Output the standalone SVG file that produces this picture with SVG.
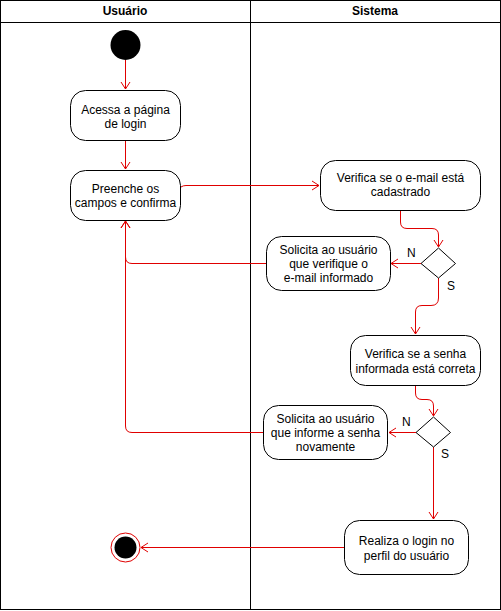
<svg xmlns="http://www.w3.org/2000/svg" width="501" height="611" viewBox="0 0 501 611">
<style>
.lane{fill:none;stroke:#000;stroke-width:1}
.hdr{font-family:"Liberation Sans",Arial,sans-serif;font-size:12px;font-weight:bold;fill:#000;text-anchor:middle}
.node{fill:#fff;stroke:#000;stroke-width:1}
.t{font-family:"Liberation Sans",Arial,sans-serif;font-size:12px;fill:#000;text-anchor:middle}
.lbl{font-family:"Liberation Sans",Arial,sans-serif;font-size:12px;fill:#000}
.e{fill:none;stroke:#e00000;stroke-width:1;marker-end:url(#arr)}
</style>
<defs>
<marker id="arr" markerUnits="userSpaceOnUse" markerWidth="12" markerHeight="12" viewBox="-9 -6 12 12" refX="0" refY="0" orient="auto">
<path d="M-7,-4.5 L0,0 L-7,4.5" fill="none" stroke="#e00000" stroke-width="1"/>
</marker>
</defs>
<rect width="501" height="611" fill="#fff"/>
<g id="lanes">
<rect class="lane" x="0.5" y="0.5" width="500" height="609"/>
<line class="lane" x1="0.5" y1="22.5" x2="500.5" y2="22.5"/>
<line class="lane" x1="250.5" y1="0.5" x2="250.5" y2="609.5"/>
<text class="hdr" x="125" y="15">Usuário</text>
<text class="hdr" x="375" y="15">Sistema</text>
</g>
<g id="connectors">
<path class="e" d="M125.5 60 L125.5 89"/>
<path class="e" d="M125.5 140 L125.5 169"/>
<path class="e" d="M181 187 Q183 185.5 186 185.5 L319 185.5"/>
<path class="e" d="M400.5 210 L400.5 222 Q400.5 228.5 407 228.5 L432 228.5 Q438.5 228.5 438.5 235 L438.5 247"/>
<path class="e" d="M421 263.5 L391 263.5"/>
<path class="e" d="M266 263.5 L132 263.5 Q125.5 263.5 125.5 257 L125.5 221"/>
<path class="e" d="M438.5 278 L438.5 298 Q438.5 305.5 431 305.5 L422 305.5 Q415.5 305.5 415.5 312 L415.5 334"/>
<path class="e" d="M415.5 385 L415.5 393 Q415.5 399.5 422 399.5 L427 399.5 Q433.5 399.5 433.5 406 L433.5 416"/>
<path class="e" d="M416 432.5 L389 432.5"/>
<path class="e" d="M263 432.5 L132 432.5 Q125.5 432.5 125.5 426 L125.5 221"/>
<path class="e" d="M433.5 447 L433.5 519"/>
<path class="e" d="M344 547.5 L141 547.5"/>
</g>
<g id="start"><circle cx="125.5" cy="45" r="15" fill="#000"/></g>
<g id="acessa">
<rect class="node" x="70.5" y="90.5" width="110" height="50" rx="15"/>
<text class="t" x="125.5" y="114">Acessa a página</text>
<text class="t" x="125.5" y="128">de login</text>
</g>
<g id="preenche">
<rect class="node" x="70.5" y="170.5" width="110" height="50" rx="15"/>
<text class="t" x="125.5" y="193">Preenche os</text>
<text class="t" x="125.5" y="207">campos e confirma</text>
</g>
<g id="verificaEmail">
<rect class="node" x="320.5" y="160.5" width="160" height="50" rx="15"/>
<text class="t" x="400.5" y="182">Verifica se o e-mail está</text>
<text class="t" x="400.5" y="196">cadastrado</text>
</g>
<g id="decisao1">
<path class="node" d="M438.5 248 L455.5 263.5 L438.5 278 L421 263.5 Z"/>
<text class="lbl" x="407" y="257">N</text>
<text class="lbl" x="447" y="290">S</text>
</g>
<g id="solicitaEmail">
<rect class="node" x="266.5" y="236.5" width="124" height="54" rx="15"/>
<text class="t" x="328.5" y="254">Solicita ao usuário</text>
<text class="t" x="328.5" y="268">que verifique o</text>
<text class="t" x="328.5" y="282">e-mail informado</text>
</g>
<g id="verificaSenha">
<rect class="node" x="350.5" y="335.5" width="130" height="50" rx="15"/>
<text class="t" x="415.5" y="358">Verifica se a senha</text>
<text class="t" x="415.5" y="373">informada está correta</text>
</g>
<g id="decisao2">
<path class="node" d="M433.5 417 L450.5 432.5 L433.5 447 L416 432.5 Z"/>
<text class="lbl" x="402" y="426">N</text>
<text class="lbl" x="441" y="458">S</text>
</g>
<g id="solicitaSenha">
<rect class="node" x="263.5" y="405.5" width="124" height="54" rx="15"/>
<text class="t" x="325.5" y="423">Solicita ao usuário</text>
<text class="t" x="325.5" y="437">que informe a senha</text>
<text class="t" x="325.5" y="451">novamente</text>
</g>
<g id="realiza">
<rect class="node" x="344.5" y="520.5" width="124" height="54" rx="15"/>
<text class="t" x="406.5" y="545">Realiza o login no</text>
<text class="t" x="406.5" y="560">perfil do usuário</text>
</g>
<g id="end">
<circle cx="125.5" cy="547.5" r="14.5" fill="#fff" stroke="#e00000" stroke-width="1"/>
<circle cx="125.5" cy="547.5" r="11" fill="#000"/>
</g>
</svg>
